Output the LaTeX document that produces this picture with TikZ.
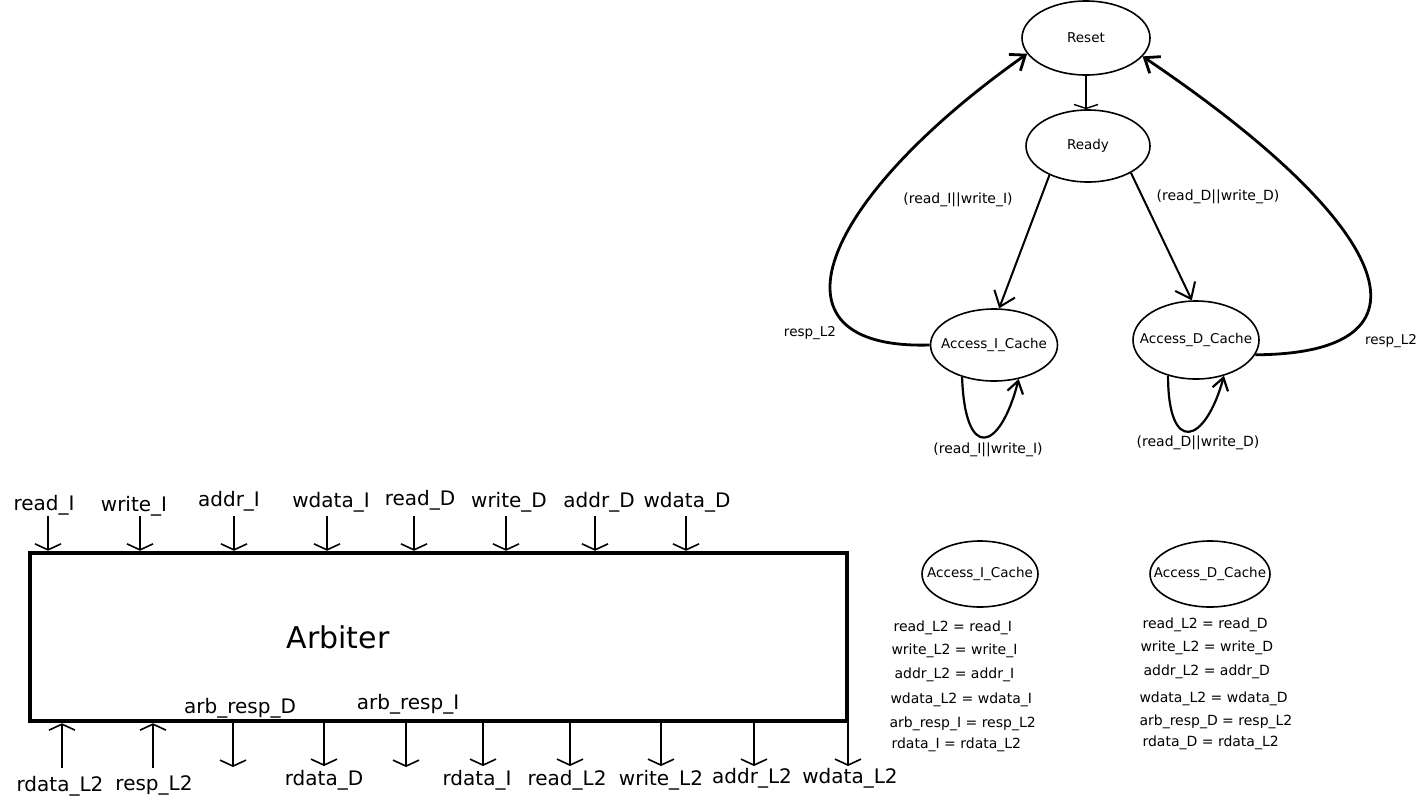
\documentclass[tikz,border=0pt]{standalone}
\usepackage{fontspec}
\setmainfont{DejaVu Sans}
\usetikzlibrary{arrows.meta}
\usetikzlibrary{shapes.geometric}

\begin{document}
\begin{tikzpicture}[x=1pt,y=-1pt,
    state/.style={draw,ellipse,line width=1.6pt,inner sep=0pt},
    lbl/.style={font=\fontsize{13.5}{15}\selectfont},
    guard/.style={font=\fontsize{14}{16}\selectfont},
    sig/.style={font=\fontsize{20}{22}\selectfont},
    eqn/.style={anchor=west,font=\fontsize{14}{16}\selectfont},
    pin/.style={line width=1.6pt,-{Straight Barb[length=6pt,width=26pt]}},
    go/.style={line width=1.4pt,-{Straight Barb[length=4pt,width=24pt]}},
    trans/.style={line width=2pt,-{Straight Barb[length=14pt,width=22pt]}},
    ret/.style={line width=2.8pt,-{Straight Barb[length=13pt,width=20pt]}},
    self/.style={line width=2.2pt,-{Straight Barb[length=12pt,width=16pt]}}]
  \useasboundingbox (0,0) rectangle (1419,804);
  %% arbiter block
  \begin{scope}
    \node[draw,line width=4.5pt,minimum width=817pt,minimum height=168pt] (arb) at (438.5,637) {};
    \node[font=\fontsize{30}{34}\selectfont] (arbname) at (338,637) {Arbiter};
    \foreach \ax/\lx/\ly/\t [count=\i] in {48/44/505/read\_I, 140/134/506/write\_I,
        234/229/501/addr\_I, 327/331/502/wdata\_I, 414/420/500/read\_D,
        506/509/502/write\_D, 595/599/502/addr\_D, 686/687/502/wdata\_D}
    {
      \node[sig] (in\i) at (\lx,\ly) {\t};
      \coordinate (tin\i) at (\ax,516);
      \draw[pin] (tin\i) -- (tin\i |- arb.north);
    }
    \foreach \ax/\lx/\ly/\t [count=\i] in {62/60/786/rdata\_L2, 153/154/785/resp\_L2}
    {
      \node[sig] (fb\i) at (\lx,\ly) {\t};
      \coordinate (bfb\i) at (\ax,768);
      \draw[pin] (bfb\i) -- (bfb\i |- arb.south);
    }
    \foreach \ax/\lx/\ly/\t [count=\i] in {324/324/780/rdata\_D, 483/477/780/rdata\_I,
        570/567/780/read\_L2, 661/661/780/write\_L2, 754/752/778/addr\_L2, 848/850/778/wdata\_L2}
    {
      \node[sig] (out\i) at (\lx,\ly) {\t};
      \coordinate (bout\i) at (\ax,766);
      \draw[pin] (bout\i |- arb.south) -- (bout\i);
    }
    \node[sig] (respD) at (240,708) {arb\_resp\_D};
    \node[sig] (respI) at (408,704) {arb\_resp\_I};
    \coordinate (brD) at (233,767);
    \coordinate (brI) at (406,767);
    \draw[pin] (brD |- arb.south) -- (brD);
    \draw[pin] (brI |- arb.south) -- (brI);
  \end{scope}
  %% state machine
  \begin{scope}
    \node[state,minimum width=128pt,minimum height=74pt,label={[lbl]center:Reset}] (rst) at (1086,38) {};
    \node[state,minimum width=124pt,minimum height=72pt,label={[lbl]center:Ready}] (rdy) at (1088,146) {};
    \node[state,minimum width=127pt,minimum height=72pt,label={[lbl]center:Access\_I\_Cache}] (accI) at (994,345) {};
    \node[state,minimum width=126pt,minimum height=78pt,label={[lbl]center:Access\_D\_Cache}] (accD) at (1196,340) {};
    \draw[go] (rst.south) -- (rst.south |- rdy.north);
    \draw[trans] (rdy.-143) -- (accI.82);
    \draw[trans] (rdy.-32) -- (accD.96);
    \node[guard] (gI) at (958,200) {(read\_I||write\_I)};
    \node[guard] (gD) at (1218,197) {(read\_D||write\_D)};
    \draw[ret] (accI.west) .. controls (758,350) and (820,200) .. (rst.-165);
    \draw[ret] (accD.-14) .. controls (1442,354) and (1400,230) .. (rst.-18);
    \node[lbl] (retI) at (810,333) {resp\_L2};
    \node[lbl] (retD) at (1391,341) {resp\_L2};
    \draw[self] (accI.-135) .. controls (965,462) and (1000,452) .. (accI.-54);
    \draw[self] (accD.-128) .. controls (1168,455) and (1205,445) .. (accD.-52);
    \node[guard] (slfI) at (988,450) {(read\_I||write\_I)};
    \node[guard] (slfD) at (1198,443) {(read\_D||write\_D)};
  \end{scope}
  %% outputs per state
  \begin{scope}
    \node[state,minimum width=116pt,minimum height=66pt,label={[lbl]center:Access\_I\_Cache}] (outI) at (980,574) {};
    \node[state,minimum width=120pt,minimum height=66pt,label={[lbl]center:Access\_D\_Cache}] (outD) at (1210,574) {};
    \node[eqn] (eI1) at (890,628) {read\_L2 = read\_I};
    \node[eqn] (eI2) at (888,651) {write\_L2 = write\_I};
    \node[eqn] (eI3) at (891,675) {addr\_L2 = addr\_I};
    \node[eqn] (eI4) at (887,700) {wdata\_L2 = wdata\_I};
    \node[eqn] (eI5) at (886,724) {arb\_resp\_I = resp\_L2};
    \node[eqn] (eI6) at (888,745) {rdata\_I = rdata\_L2};
    \node[eqn] (eD1) at (1139,625) {read\_L2 = read\_D};
    \node[eqn] (eD2) at (1137,648) {write\_L2 = write\_D};
    \node[eqn] (eD3) at (1140,672) {addr\_L2 = addr\_D};
    \node[eqn] (eD4) at (1136,699) {wdata\_L2 = wdata\_D};
    \node[eqn] (eD5) at (1136,722) {arb\_resp\_D = resp\_L2};
    \node[eqn] (eD6) at (1139,743) {rdata\_D = rdata\_L2};
  \end{scope}
\end{tikzpicture}
\end{document}
